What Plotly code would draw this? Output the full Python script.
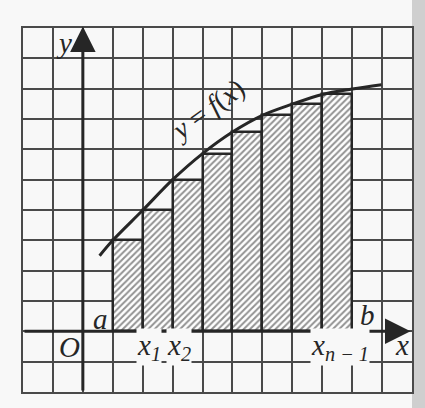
import plotly.graph_objects as go

# ---- data (grid units) ----
bar_left = [1, 2, 3, 4, 5, 6, 7, 8]
bar_heights = [3.0, 3.99, 5.0, 5.86, 6.57, 7.12, 7.49, 7.81]
curve_x = [0.56, 1, 2, 3, 4, 5, 6, 7, 8, 9, 9.98]
curve_y = [2.49, 3.0, 3.99, 5.0, 5.86, 6.57, 7.12, 7.49, 7.81, 7.99, 8.13]
point_labels = ["a", "x<sub>1</sub>", "x<sub>2</sub>", "x<sub>n − 1</sub>", "b"]

INK = "#262626"
GRID = "#4a4a4a"
BG = "#f8f8f8"
SERIF = "Liberation Serif, DejaVu Serif, serif"

fig = go.Figure()

fig.add_trace(go.Bar(
    x=[v + 0.5 for v in bar_left], y=bar_heights, width=1,
    marker=dict(color="white",
                line=dict(color=INK, width=2.5),
                pattern=dict(shape="/", fgcolor=INK, bgcolor="white",
                             size=4.5, solidity=0.45)),
    showlegend=False, hoverinfo="skip"))

fig.add_trace(go.Scatter(
    x=curve_x, y=curve_y, mode="lines",
    line=dict(color=INK, width=3, shape="spline", smoothing=1.0),
    showlegend=False, hoverinfo="skip"))

ann = []
# axes with arrows
ann.append(dict(x=10.95, y=0, ax=-2, ay=0, xref="x", yref="y", axref="x", ayref="y",
                showarrow=True, arrowhead=2, arrowsize=1.7, arrowwidth=3,
                arrowcolor=INK, text=""))
ann.append(dict(x=0, y=10.05, ax=0, ay=-2, xref="x", yref="y", axref="x", ayref="y",
                showarrow=True, arrowhead=2, arrowsize=1.7, arrowwidth=3,
                arrowcolor=INK, text=""))

def label(txt, x, y, size=29, angle=0, bg=None):
    d = dict(x=x, y=y, xref="x", yref="y", text=txt, showarrow=False,
             font=dict(family=SERIF, size=size, color=INK), textangle=angle,
             borderpad=0)
    if bg:
        d["bgcolor"] = bg
    ann.append(d)

label("<i>y</i>", -0.62, 9.5)
label("<i>x</i>", 10.67, -0.44)
label("<i>O</i>", -0.44, -0.52)
label("<i>" + point_labels[0] + "</i>", 0.6, 0.42)
label("<i>" + point_labels[1] + "</i>", 2.2, -0.52, bg=BG)
label("<i>" + point_labels[2] + "</i>", 3.2, -0.52, bg=BG)
label("<i>" + point_labels[3] + "</i>", 8.58, -0.52, bg=BG)
label("<i>" + point_labels[4] + "</i>", 9.5, 0.55)
label("<i>y</i> = <i>f</i>(<i>x</i>)", 4.15, 7.32, size=28, angle=-36)
label("<b>′</b>", -2.4, 1.05, size=28)

fig.update_layout(
    width=425, height=408,
    margin=dict(l=23, r=13, t=28, b=16),
    paper_bgcolor=BG, plot_bgcolor=BG,
    annotations=ann,
    bargap=0,
    shapes=[dict(type="rect", xref="paper", yref="paper",
                 x0=1.0, x1=1.05, y0=-0.1, y1=1.1,
                 fillcolor="#cfcfcf", line=dict(width=0), layer="below")],
    xaxis=dict(range=[-2, 11], dtick=1, tick0=0, showgrid=True,
               gridcolor=GRID, gridwidth=1.5, zeroline=False,
               showticklabels=False, ticks="", showline=True, mirror=True,
               linecolor=GRID, linewidth=1.5, fixedrange=True),
    yaxis=dict(range=[-2, 10], dtick=1, tick0=0, showgrid=True,
               gridcolor=GRID, gridwidth=1.5, zeroline=False,
               showticklabels=False, ticks="", showline=True, mirror=True,
               linecolor=GRID, linewidth=1.5, fixedrange=True),
)

fig.write_html("out.html", config={"displayModeBar": False},
               post_script="document.body.style.margin='0';")
